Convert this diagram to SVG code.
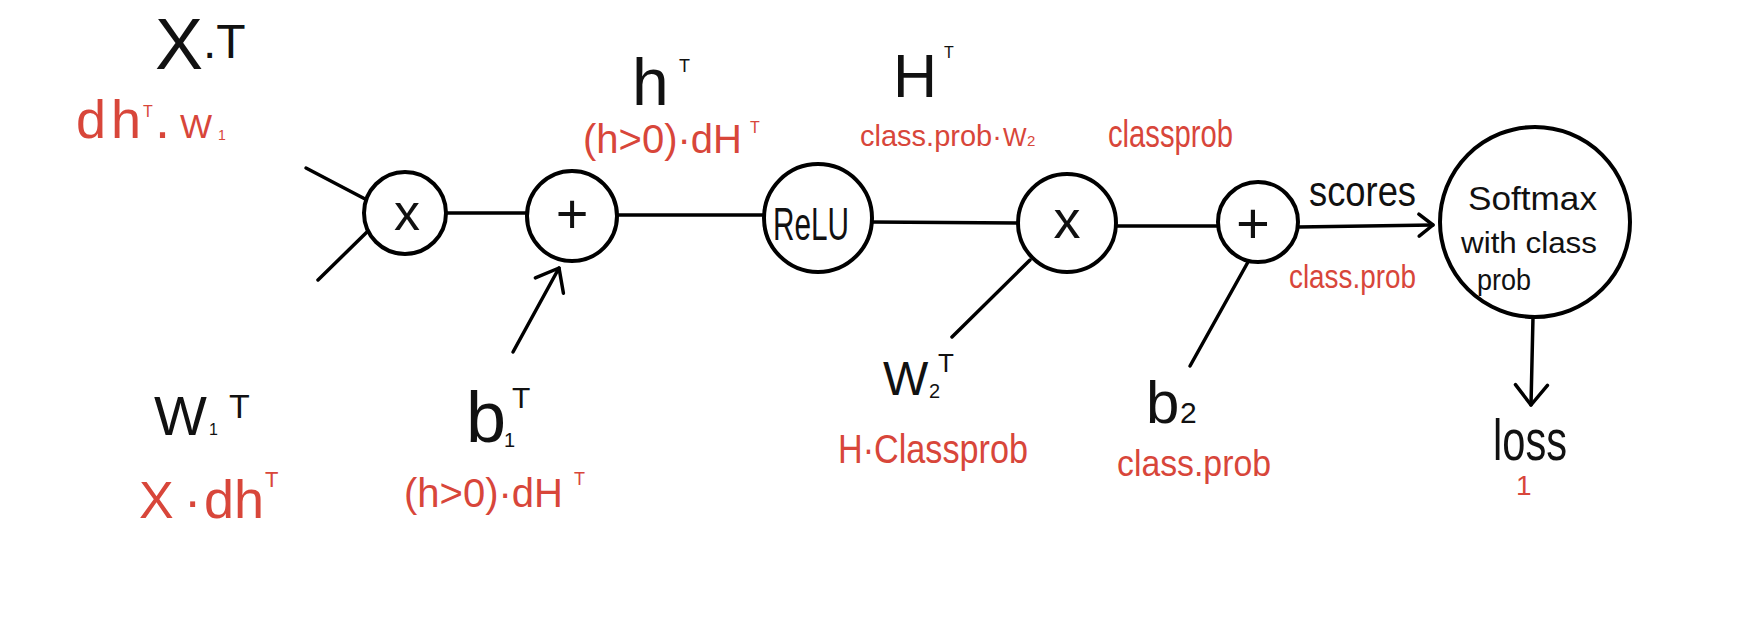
<svg xmlns="http://www.w3.org/2000/svg" width="1761" height="640" viewBox="0 0 1761 640">
<style>
text{font-family:"Liberation Sans",Arial,sans-serif;fill:#111}
.red{fill:#d8463a}
.node{fill:#fff;stroke:#000;stroke-width:4}
.edge{fill:none;stroke:#000;stroke-width:3.5;stroke-linecap:round}
</style>
<defs>
<marker id="chev" markerUnits="userSpaceOnUse" viewBox="-2 -2 26 36" refX="20" refY="16" markerWidth="26" markerHeight="36" orient="auto" overflow="visible">
<path d="M0,0 L20,16 L0,32" fill="none" stroke="#000" stroke-width="3.5" stroke-linecap="round" stroke-linejoin="round"/>
</marker>
<marker id="chevs" markerUnits="userSpaceOnUse" viewBox="-2 -2 20 26" refX="14" refY="11" markerWidth="20" markerHeight="26" orient="auto" overflow="visible">
<path d="M0,0 L14,11 L0,22" fill="none" stroke="#000" stroke-width="3.5" stroke-linecap="round" stroke-linejoin="round"/>
</marker>
</defs>
<rect width="1761" height="640" fill="#fff"/>
<g id="connectors">
<line class="edge" x1="306" y1="168" x2="367" y2="200"/>
<line class="edge" x1="318" y1="280" x2="369" y2="230"/>
<line class="edge" x1="446" y1="213" x2="528" y2="213"/>
<line class="edge" x1="513" y1="352" x2="559" y2="268" marker-end="url(#chev)"/>
<line class="edge" x1="617" y1="215" x2="764" y2="215"/>
<line class="edge" x1="871" y1="222" x2="1018" y2="223"/>
<line class="edge" x1="1116" y1="226" x2="1218" y2="226"/>
<line class="edge" x1="952" y1="337" x2="1030" y2="260"/>
<line class="edge" x1="1190" y1="366" x2="1248" y2="262"/>
<line class="edge" x1="1298" y1="227" x2="1433" y2="225" marker-end="url(#chevs)"/>
<line class="edge" x1="1533" y1="317" x2="1531" y2="405" marker-end="url(#chev)"/>
</g>
<g id="mul1">
<circle class="node" cx="405" cy="213" r="41"/>
<text x="407" y="230" font-size="52" text-anchor="middle">x</text>
</g>
<g id="add1">
<circle class="node" cx="572" cy="216" r="45"/>
<text x="572" y="233" font-size="56" text-anchor="middle">+</text>
</g>
<g id="relu">
<circle class="node" cx="818" cy="218" r="54"/>
<text x="773" y="240" font-size="46" textLength="76" lengthAdjust="spacingAndGlyphs">ReLU</text>
</g>
<g id="mul2">
<circle class="node" cx="1067" cy="223" r="49"/>
<text x="1067" y="238" font-size="54" text-anchor="middle">x</text>
</g>
<g id="add2">
<circle class="node" cx="1258" cy="222" r="40"/>
<text x="1253" y="243" font-size="58" text-anchor="middle">+</text>
</g>
<g id="softmax">
<circle class="node" cx="1535" cy="222" r="95"/>
<text font-size="34"><tspan x="1468" y="210" textLength="129" lengthAdjust="spacingAndGlyphs">Softmax</tspan><tspan x="1461" y="253" font-size="30" textLength="136" lengthAdjust="spacingAndGlyphs">with class</tspan><tspan x="1477" y="290" font-size="30" textLength="54" lengthAdjust="spacingAndGlyphs">prob</tspan></text>
</g>
<g id="input-x">
<text y="69" font-size="72"><tspan x="155">X</tspan><tspan x="203" y="58" font-size="48">.T</tspan></text>
<text class="red" y="138" font-size="54"><tspan x="76">d</tspan><tspan x="111">h</tspan><tspan x="143" y="117" font-size="16">T</tspan><tspan x="155" y="138">.</tspan><tspan x="180" font-size="34">W</tspan><tspan x="218" y="140" font-size="14">1</tspan></text>
</g>
<g id="input-w1">
<text y="435" font-size="56"><tspan x="154">W</tspan><tspan x="209" font-size="16">1</tspan><tspan x="229" y="418" font-size="34">T</tspan></text>
<text class="red" y="518"><tspan x="139" font-size="52">X</tspan><tspan x="184" font-size="52">·</tspan><tspan x="204" font-size="54">dh</tspan><tspan x="265" y="487" font-size="22">T</tspan></text>
</g>
<g id="label-h">
<text y="105" font-size="66"><tspan x="632">h</tspan><tspan x="679" y="72" font-size="18">T</tspan></text>
<text class="red" y="153" font-size="40"><tspan x="583">(h&gt;0)·dH</tspan><tspan x="750" y="133" font-size="16">T</tspan></text>
</g>
<g id="input-b1">
<text y="442" font-size="72"><tspan x="466">b</tspan><tspan x="504" y="447" font-size="20">1</tspan><tspan x="512" y="408" font-size="30">T</tspan></text>
<text class="red" y="507" font-size="40"><tspan x="404">(h&gt;0)·dH</tspan><tspan x="574" y="485" font-size="18">T</tspan></text>
</g>
<g id="label-H">
<text y="97" font-size="61"><tspan x="893">H</tspan><tspan x="944" y="58" font-size="16">T</tspan></text>
<text class="red" y="146" font-size="29"><tspan x="860">class.prob·</tspan><tspan x="1003" font-size="25">W</tspan><tspan x="1027" font-size="15">2</tspan></text>
</g>
<g id="label-classprob">
<text class="red" x="1108" y="147" font-size="38" textLength="125" lengthAdjust="spacingAndGlyphs">classprob</text>
</g>
<g id="input-w2">
<text y="395" font-size="48"><tspan x="883">W</tspan><tspan x="929" y="398" font-size="20">2</tspan><tspan x="938" y="372" font-size="26">T</tspan></text>
<text class="red" x="838" y="463" font-size="40" textLength="190" lengthAdjust="spacingAndGlyphs">H·Classprob</text>
</g>
<g id="input-b2">
<text y="423" font-size="60"><tspan x="1146">b</tspan><tspan x="1180" font-size="30">2</tspan></text>
<text class="red" x="1117" y="476" font-size="36" textLength="154" lengthAdjust="spacingAndGlyphs">class.prob</text>
</g>
<g id="label-scores">
<text x="1309" y="206" font-size="42" textLength="107" lengthAdjust="spacingAndGlyphs">scores</text>
<text class="red" x="1289" y="288" font-size="34" textLength="127" lengthAdjust="spacingAndGlyphs">class.prob</text>
</g>
<g id="loss">
<text x="1493" y="460" font-size="58" textLength="74" lengthAdjust="spacingAndGlyphs">loss</text>
<text class="red" x="1516" y="495" font-size="28">1</text>
</g>
</svg>
